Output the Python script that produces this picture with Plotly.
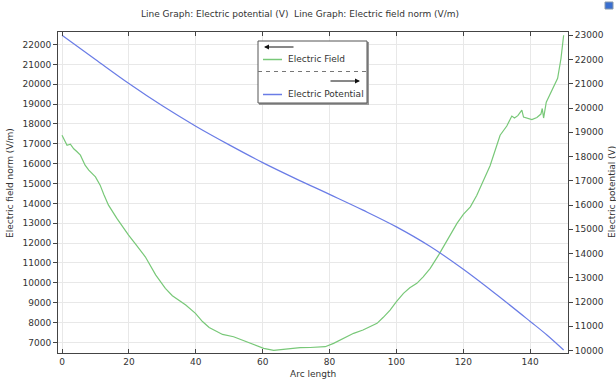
import plotly.graph_objects as go

# ---------------- data ----------------
field_x = [0, 0.8, 1.5, 2.5, 3.5, 4.5, 5.5, 6.9, 8, 10, 11.4, 12.5, 13.9, 16.4, 18, 19.9,
           22, 24.9, 28, 30.9, 33, 35.4, 37, 39.9, 42, 44, 46.3, 48, 51.3, 54, 57, 60.3,
           63.3, 66, 68.3, 71.2, 74.2, 76, 78.7, 81.2, 84, 87.2, 90, 92, 94.2, 96, 98.1,
           100, 102.1, 104, 106.1, 108, 110.1, 112.6, 115, 118.1, 120, 122.1, 124, 126,
           128, 131, 133, 134.5, 135.3, 136.3, 137.5, 138, 139, 140.5, 142, 143.2, 143.6,
           144, 144.8, 146, 148.2, 149.2, 150]
field_y = [17435, 17200, 16930, 16980, 16750, 16600, 16430, 15925, 15675, 15336, 14920,
           14450, 13913, 13243, 12850, 12403, 11950, 11310, 10400, 9720, 9350, 9050, 8880,
           8462, 8050, 7750, 7536, 7400, 7284, 7120, 6930, 6700, 6600, 6650, 6700, 6731,
           6740, 6760, 6781, 6950, 7200, 7455, 7620, 7780, 7959, 8250, 8628, 9050, 9470,
           9750, 9972, 10300, 10727, 11396, 12100, 12991, 13450, 13827, 14400, 15171,
           15900, 17435, 17900, 18400, 18300, 18420, 18700, 18350, 18300, 18225, 18330,
           18500, 18780, 18300, 19100, 19500, 20300, 21300, 22470]

pot_x = [0, 10, 20, 30, 40, 50, 60, 70, 80, 90, 100, 110, 120, 130, 140, 145, 150]
pot_y = [23000, 22000, 21010, 20090, 19250, 18480, 17750, 17080, 16440, 15790, 15100,
         14300, 13350, 12300, 11200, 10640, 10020]

x_ticks = [0, 20, 40, 60, 80, 100, 120, 140]
left_ticks = list(range(7000, 22001, 1000))
right_ticks = list(range(10000, 23001, 1000))

title_text = "Line Graph: Electric potential (V)  Line Graph: Electric field norm (V/m)"
xlabel = "Arc length"
ylabel_left = "Electric field norm (V/m)"
ylabel_right = "Electric potential (V)"
legend_names = ["Electric Field", "Electric Potential"]

GREEN = "#78c878"
BLUE = "#6a7ce6"
FONT = "DejaVu Sans"

W, H = 616, 383
ML, MR, MT, MB = 58, 48, 32, 30
PW, PH = W - ML - MR, H - MT - MB


def px(x):
    return (x - ML) / PW


def py(y):
    return (H - MB - y) / PH


fig = go.Figure()
fig.add_trace(go.Scatter(x=field_x, y=field_y, mode="lines", name=legend_names[0],
                         line=dict(color=GREEN, width=1.2), yaxis="y"))
fig.add_trace(go.Scatter(x=pot_x, y=pot_y, mode="lines", name=legend_names[1],
                         line=dict(color=BLUE, width=1.2, shape="spline"), yaxis="y2"))

axis_common = dict(showline=True, linecolor="#444", linewidth=1, tickcolor="#444",
                   ticklen=4, tickfont=dict(family=FONT, size=9, color="#333"),
                   zeroline=False, tickformat="d")

fig.update_layout(
    width=W, height=H,
    margin=dict(l=ML, r=MR, t=MT, b=MB),
    paper_bgcolor="white", plot_bgcolor="white",
    showlegend=False,
    xaxis=dict(range=[-1.2, 151.3], tickvals=x_ticks, ticks="inside", mirror="ticks",
               showgrid=True, gridcolor="#e8e8e8", **axis_common),
    yaxis=dict(range=[6464, 22634], tickvals=left_ticks, ticks="outside",
               showgrid=True, gridcolor="#e8e8e8", **axis_common),
    yaxis2=dict(range=[9898, 23136], tickvals=right_ticks, ticks="outside", side="right",
                overlaying="y", showgrid=False, **axis_common),
)

annots = []
txtfont = dict(family=FONT, size=9, color="#333")
annots.append(dict(text=title_text, x=px(300), y=py(14), xref="paper", yref="paper",
                   showarrow=False, xanchor="center", yanchor="middle", font=txtfont))
annots.append(dict(text=xlabel, x=px(313), y=py(374), xref="paper", yref="paper",
                   showarrow=False, xanchor="center", yanchor="middle", font=txtfont))
annots.append(dict(text=ylabel_left, x=px(10), y=py(183), xref="paper", yref="paper",
                   showarrow=False, xanchor="center", yanchor="middle", textangle=-90,
                   font=txtfont))
annots.append(dict(text=ylabel_right, x=px(612), y=py(192), xref="paper", yref="paper",
                   showarrow=False, xanchor="center", yanchor="middle", textangle=-90,
                   font=txtfont))

# legend box
shapes = []
shapes.append(dict(type="rect", xref="paper", yref="paper", x0=px(259), x1=px(369),
                   y0=py(42), y1=py(105), line=dict(width=0), fillcolor="#999"))
shapes.append(dict(type="rect", xref="paper", yref="paper", x0=px(258), x1=px(367),
                   y0=py(41), y1=py(103), line=dict(color="#555", width=1),
                   fillcolor="white"))
shapes.append(dict(type="line", xref="paper", yref="paper", x0=px(258), x1=px(367),
                   y0=py(71.5), y1=py(71.5),
                   line=dict(color="#777", width=1, dash="4px,4px")))
shapes.append(dict(type="line", xref="paper", yref="paper", x0=px(263), x1=px(282),
                   y0=py(59.5), y1=py(59.5), line=dict(color=GREEN, width=1.5)))
shapes.append(dict(type="line", xref="paper", yref="paper", x0=px(263), x1=px(282),
                   y0=py(94.5), y1=py(94.5), line=dict(color=BLUE, width=1.5)))
# small icon in corner
shapes.append(dict(type="rect", xref="paper", yref="paper", x0=px(605), x1=px(613),
                   y0=py(2), y1=py(9), line=dict(color="#8899aa", width=1),
                   fillcolor="#3a6fd0"))

annots.append(dict(text="", x=px(264), y=py(47), xref="paper", yref="paper",
                   ax=31, ay=0, axref="pixel", ayref="pixel", showarrow=True,
                   arrowhead=2, arrowsize=1, arrowwidth=1, arrowcolor="#111"))
annots.append(dict(text="", x=px(360), y=py(81), xref="paper", yref="paper",
                   ax=-31, ay=0, axref="pixel", ayref="pixel", showarrow=True,
                   arrowhead=2, arrowsize=1, arrowwidth=1, arrowcolor="#111"))
annots.append(dict(text=legend_names[0], x=px(286), y=py(59.5), xref="paper", yref="paper",
                   showarrow=False, xanchor="left", yanchor="middle", font=txtfont))
annots.append(dict(text=legend_names[1], x=px(286), y=py(94.5), xref="paper", yref="paper",
                   showarrow=False, xanchor="left", yanchor="middle", font=txtfont))

fig.update_layout(annotations=annots, shapes=shapes)
fig.write_html("out.html", config={"displayModeBar": False},
               post_script="document.body.style.margin='0';")
